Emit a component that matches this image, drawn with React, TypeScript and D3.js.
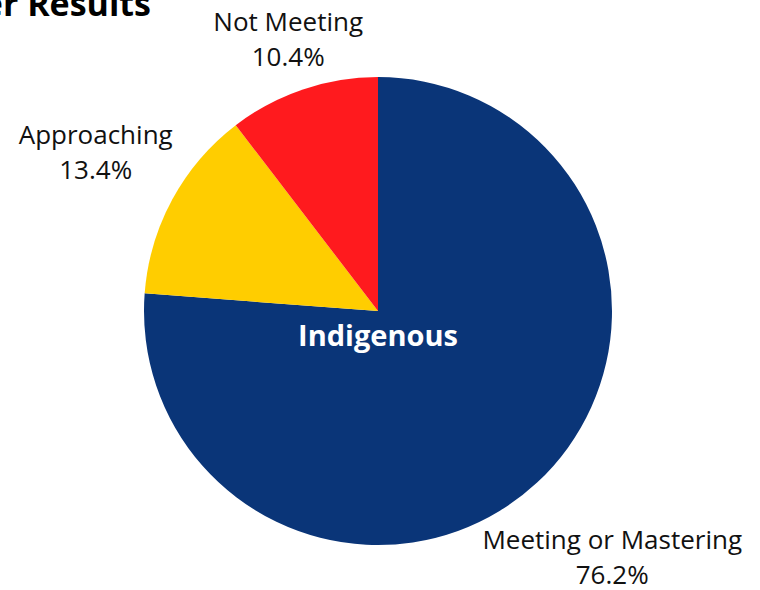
import React, { useEffect, useRef } from 'react';
import * as d3 from 'd3';

const categories = ['Meeting or Mastering', 'Approaching', 'Not Meeting'];
const values = [76.2, 13.4, 10.4];
const colors = ['#0a3578', '#ffcd00', '#ff1a1e'];
const centerLabel = 'Indigenous';
const titleText = 'er Results';

// label distance from centre, as a multiple of the radius (outside-end labels)
const labelRadius = [1.472, 1.372, 1.196];

export default function App() {
  const ref = useRef<SVGSVGElement>(null);

  useEffect(() => {
    const width = 760;
    const height = 590;
    const cx = 378;
    const cy = 311;
    const radius = 234;

    const svg = d3.select(ref.current);
    svg.selectAll('*').remove();
    svg.attr('width', width).attr('height', height);

    const font = '"Open Sans", sans-serif';

    svg.append('text')
      .attr('x', 151)
      .attr('y', 16)
      .attr('text-anchor', 'end')
      .style('font-family', font)
      .style('font-weight', 700)
      .style('font-size', '34px')
      .style('fill', '#000')
      .text(titleText);

    const pie = d3.pie<number>().value((d) => d).sort(null);
    const arc = d3.arc<d3.PieArcDatum<number>>().innerRadius(0).outerRadius(radius);

    const g = svg.append('g').attr('transform', `translate(${cx},${cy})`);
    const arcs = pie(values);

    g.selectAll('path')
      .data(arcs)
      .enter()
      .append('path')
      .attr('d', arc)
      .style('fill', (d, i) => colors[i]);

    const labels = g.selectAll('.lbl')
      .data(arcs)
      .enter()
      .append('text')
      .attr('class', 'lbl')
      .attr('transform', (d, i) => {
        const r = radius * labelRadius[i];
        const la = d3.arc<d3.PieArcDatum<number>>().innerRadius(r).outerRadius(r);
        return `translate(${la.centroid(d)})`;
      })
      .attr('text-anchor', 'middle')
      .style('font-family', font)
      .style('font-size', '26px')
      .style('fill', '#111');
    labels.append('tspan')
      .attr('x', 0)
      .attr('dy', -14.5)
      .text((d, i) => categories[i]);
    labels.append('tspan')
      .attr('x', 0)
      .attr('dy', 35)
      .text((d) => d.value.toFixed(1) + '%');

    g.append('text')
      .attr('x', 0)
      .attr('y', 35)
      .attr('text-anchor', 'middle')
      .style('font-family', font)
      .style('font-weight', 700)
      .style('font-size', '29px')
      .style('fill', '#fff')
      .text(centerLabel);
  }, []);

  return <svg ref={ref} style={{ position: 'absolute', left: 0, top: 0 }}></svg>;
}
